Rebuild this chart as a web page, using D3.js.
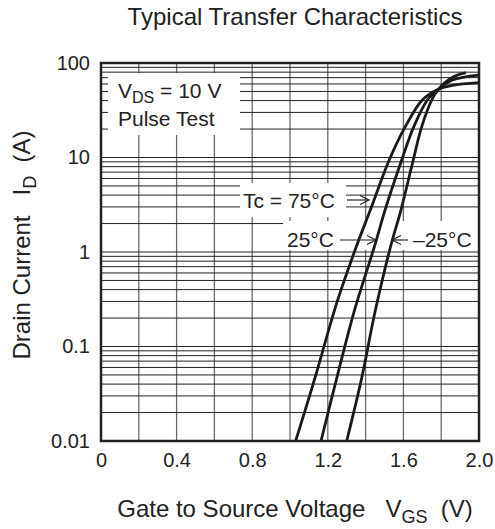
<!DOCTYPE html>
<meta charset="utf-8">
<script src="https://d3js.org/d3.v7.min.js"></script>
<head>
  <style>
    html, body { margin: 0; padding: 0; background: #fff; }
    text { font-family: 'Liberation Sans', Arial, sans-serif; fill: #222; }
  </style>
</head>
<body>
<div id="my_dataviz"></div>
<script>

// data (V_GS in volts, I_D in amperes)
var vgs75 = [1.03, 1.13, 1.25, 1.355, 1.425, 1.525, 1.61, 1.70, 1.785, 1.86, 2.0];
var id75  = [0.01, 0.045, 0.3, 1.2, 2.78, 9.4, 21.2, 40.6, 52.7, 58, 62];

var vgs25 = [1.164, 1.247, 1.339, 1.45, 1.503, 1.591, 1.655, 1.727, 1.785, 1.86, 2.0];
var id25  = [0.01, 0.046, 0.233, 1.2, 2.78, 9.4, 21.2, 40.6, 52.7, 66, 74.6];

var vgsM25 = [1.30, 1.379, 1.45, 1.535, 1.587, 1.652, 1.697, 1.75, 1.785, 1.86, 1.93];
var idM25  = [0.01, 0.046, 0.233, 1.2, 2.78, 9.4, 21.2, 40.6, 52.7, 70.6, 79];

var xTicks = [0, 0.4, 0.8, 1.2, 1.6, 2.0];
var xTickLabels = ["0", "0.4", "0.8", "1.2", "1.6", "2.0"];
var yTicks = [0.01, 0.1, 1, 10, 100];
var yTickLabels = ["0.01", "0.1", "1", "10", "100"];

var width = 495, height = 529;
var pLeft = 101, pRight = 479, pTop = 63, pBottom = 441;

var svg = d3.select("#my_dataviz")
  .append("svg")
    .attr("width", width)
    .attr("height", height);

var x = d3.scaleLinear().domain([0, 2]).range([pLeft, pRight]);
var y = d3.scaleLog().domain([0.01, 100]).range([pBottom, pTop]);

// grid
var hLines = [];
[0.01, 0.1, 1, 10].forEach(function(d) {
  for (var k = 1; k < 10; k++) hLines.push(d * k);
});
var vLines = d3.range(1, 10).map(function(i) { return i * 0.2; });

svg.append("g")
  .selectAll("line")
  .data(vLines)
  .enter()
  .append("line")
    .attr("x1", function(d) { return x(d); })
    .attr("x2", function(d) { return x(d); })
    .attr("y1", pTop)
    .attr("y2", pBottom)
    .attr("stroke", "#6a6a6a")
    .attr("stroke-width", 1.3);

svg.append("g")
  .selectAll("line")
  .data(hLines)
  .enter()
  .append("line")
    .attr("x1", pLeft)
    .attr("x2", pRight)
    .attr("y1", function(d) { return y(d); })
    .attr("y2", function(d) { return y(d); })
    .attr("stroke", "#222")
    .attr("stroke-width", 1);

// white boxes behind labels
var boxes = [[108, 73, 240, 135], [240, 183, 346, 217], [283, 221, 479, 250]];
svg.append("g")
  .selectAll("rect")
  .data(boxes)
  .enter()
  .append("rect")
    .attr("x", function(d) { return d[0]; })
    .attr("y", function(d) { return d[1]; })
    .attr("width", function(d) { return d[2] - d[0]; })
    .attr("height", function(d) { return d[3] - d[1]; })
    .attr("fill", "#fff");

// curves
svg.append("clipPath").attr("id", "clip")
  .append("rect")
    .attr("x", pLeft).attr("y", pTop)
    .attr("width", pRight - pLeft).attr("height", pBottom - pTop);

var line = d3.line()
  .x(function(d) { return x(d[0]); })
  .y(function(d) { return y(d[1]); })
  .curve(d3.curveCatmullRom.alpha(0.5));

var series = [d3.zip(vgs75, id75), d3.zip(vgs25, id25), d3.zip(vgsM25, idM25)];

svg.append("g")
  .attr("clip-path", "url(#clip)")
  .selectAll("path")
  .data(series)
  .enter()
  .append("path")
    .attr("d", line)
    .attr("fill", "none")
    .attr("stroke", "#1a1a1a")
    .attr("stroke-width", 2.8);

// frame
svg.append("rect")
  .attr("x", pLeft).attr("y", pTop)
  .attr("width", pRight - pLeft).attr("height", pBottom - pTop)
  .attr("fill", "none")
  .attr("stroke", "#222")
  .attr("stroke-width", 2.5);

// axes
var xAxis = svg.append("g")
  .attr("transform", "translate(0," + pBottom + ")")
  .call(d3.axisBottom(x).tickValues(xTicks).tickSize(0).tickPadding(11.5)
    .tickFormat(function(d, i) { return xTickLabels[i]; }));
var yAxis = svg.append("g")
  .attr("transform", "translate(" + pLeft + ",0)")
  .call(d3.axisLeft(y).tickValues(yTicks).tickSize(0).tickPadding(11)
    .tickFormat(function(d, i) { return yTickLabels[i]; }));
[xAxis, yAxis].forEach(function(a) {
  a.select(".domain").remove();
  a.selectAll("text")
    .style("font-family", "'Liberation Sans', Arial, sans-serif")
    .style("font-size", "20px")
    .attr("fill", "#222");
});

// title
svg.append("text")
  .attr("x", 295).attr("y", 25)
  .attr("text-anchor", "middle")
  .style("font-size", "24px")
  .text("Typical Transfer Characteristics");

// x axis label
var xl = svg.append("text")
  .attr("x", 295).attr("y", 517)
  .attr("text-anchor", "middle")
  .style("font-size", "24px")
  .attr("xml:space", "preserve");
xl.append("tspan").text("Gate to Source Voltage   V");
xl.append("tspan").attr("dy", 6).style("font-size", "18px").text("GS");
xl.append("tspan").attr("dy", -6).text("  (V)");

// y axis label
var yl = svg.append("text")
  .attr("transform", "translate(30,245)rotate(-90)")
  .attr("text-anchor", "middle")
  .style("font-size", "24px")
  .attr("xml:space", "preserve");
yl.append("tspan").text("Drain Current   I");
yl.append("tspan").attr("dy", 6).style("font-size", "18px").text("D");
yl.append("tspan").attr("dy", -6).text("  (A)");

// condition box
var vds = svg.append("text")
  .attr("x", 118).attr("y", 98)
  .style("font-size", "21px");
vds.append("tspan").text("V");
vds.append("tspan").attr("dy", 5).style("font-size", "16px").text("DS");
vds.append("tspan").attr("dy", -5).text(" = 10 V");
svg.append("text")
  .attr("x", 118).attr("y", 126)
  .style("font-size", "21px")
  .text("Pulse Test");

// curve labels with arrows
var labels = [
  {text: "Tc = 75°C", tx: 243, ty: 207.5, ax1: 347, ax2: 369, ay: 200},
  {text: "25°C", tx: 287, ty: 247, ax1: 340, ax2: 376, ay: 240},
  {text: "–25°C", tx: 413, ty: 247, ax1: 408, ax2: 392, ay: 240}
];
labels.forEach(function(l) {
  svg.append("text")
    .attr("x", l.tx).attr("y", l.ty)
    .style("font-size", "21px")
    .text(l.text);
  var dir = l.ax2 > l.ax1 ? 1 : -1;
  svg.append("line")
    .attr("x1", l.ax1).attr("x2", l.ax2)
    .attr("y1", l.ay).attr("y2", l.ay)
    .attr("stroke", "#222").attr("stroke-width", 1.2);
  svg.append("path")
    .attr("d", "M" + (l.ax2 - dir * 9) + "," + (l.ay - 4.5) + "L" + l.ax2 + "," + l.ay + "L" + (l.ax2 - dir * 9) + "," + (l.ay + 4.5))
    .attr("fill", "none")
    .attr("stroke", "#222").attr("stroke-width", 1.2);
});

</script>
</body>
